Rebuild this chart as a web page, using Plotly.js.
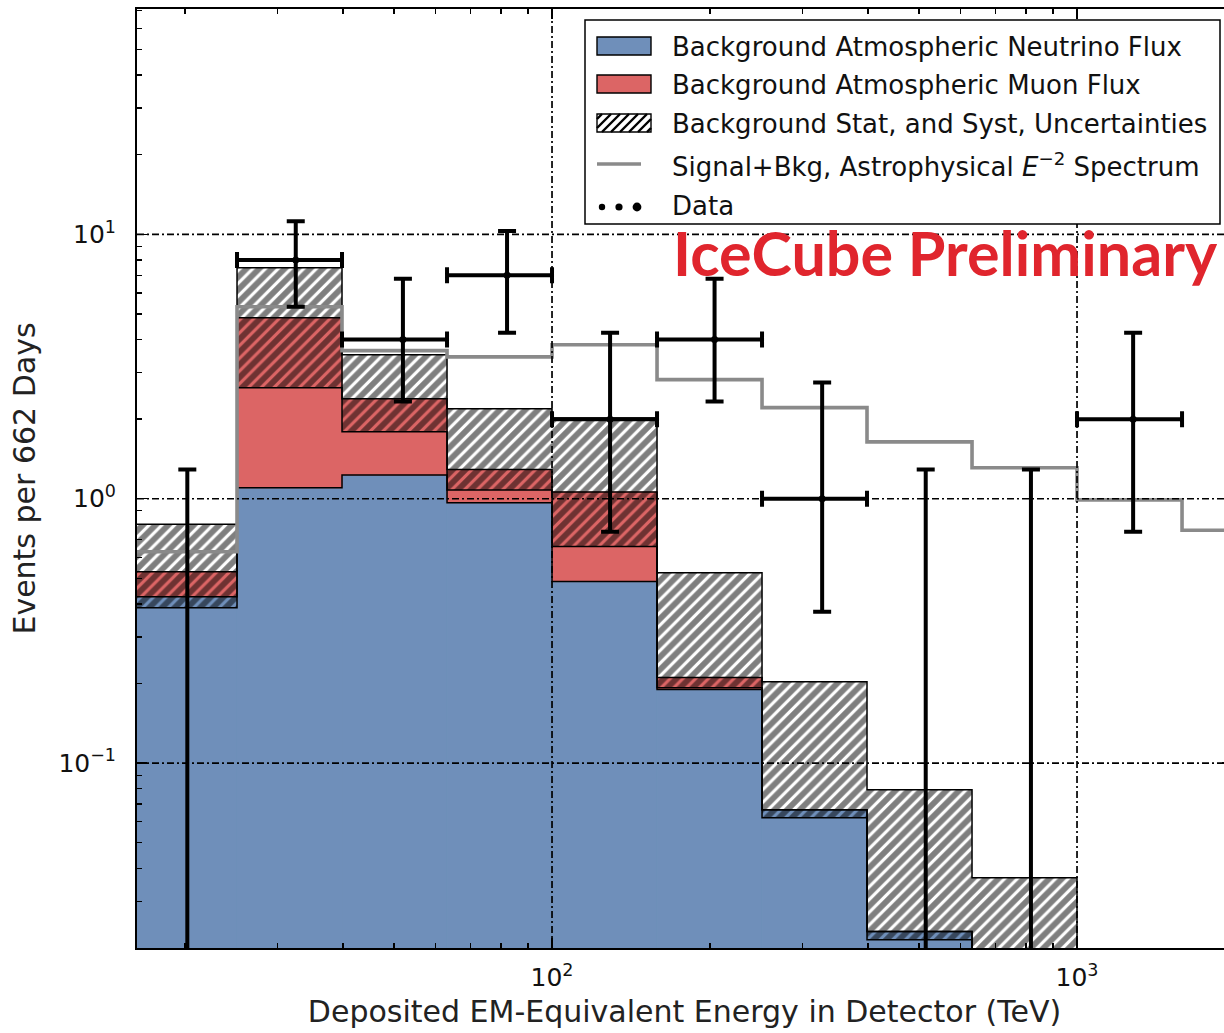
<!DOCTYPE html>
<html><head><meta charset="utf-8">
<script src="https://cdn.plot.ly/plotly-3.0.1.min.js"></script>
<style>html,body{margin:0;padding:0;overflow:hidden;background:#fff}#chart{width:1236px;height:1033px}</style>
</head><body><div id="chart"></div>
<script>
// ---------------- data ----------------
const binEdges        = [15.85, 25.12, 39.81, 63.10, 100, 158.5, 251.2, 398.1, 631.0, 1000, 1585, 2512];
const neutrinoFlux    = [0.426, 1.10, 1.23, 0.966, 0.486, 0.190, 0.0667, 0.0231, 0.012, 0.006, 0.003];
const muonFlux        = [0.104, 3.73, 1.16, 0.324, 0.574, 0.021, 0.0, 0.0, 0.0, 0.0, 0.0];
const uncertaintyLow  = [0.387, 2.63, 1.79, 1.08, 0.659, 0.193, 0.0622, 0.0215, 0.008, 0.004, 0.002];
const uncertaintyHigh = [0.80, 7.47, 3.50, 2.19, 2.02, 0.525, 0.203, 0.0794, 0.0369, 0.015, 0.008];
const signalPlusBkg   = [0.63, 5.32, 3.63, 3.44, 3.82, 2.82, 2.21, 1.64, 1.31, 0.99, 0.76];
const dataEnergy      = [20.2, 32.5, 52.0, 82.1, 129, 204, 327, 515, 817, 1279];
const dataCounts      = [0, 8, 4, 7, 2, 4, 1, 0, 0, 2];
const dataErrUp       = [1.29, 3.2, 2.79, 3.3, 2.24, 2.79, 1.75, 1.29, 1.29, 2.24];
const dataErrDown     = [0, 2.68, 1.67, 2.76, 1.25, 1.67, 0.626, 0, 0, 1.25];

const xTickVals = [100, 1000];
const xTickText = ['10<sup>2</sup>', '10<sup>3</sup>'];
const yTickVals = [0.1, 1, 10];
const yTickText = ['10<sup>\u22121</sup>', '10<sup>0</sup>', '10<sup>1</sup>'];

const legendLabels = [
  'Background Atmospheric Neutrino Flux',
  'Background Atmospheric Muon Flux',
  'Background Stat, and Syst, Uncertainties',
  'Signal+Bkg, Astrophysical <i>E</i><sup>\u22122</sup> Spectrum',
  'Data'
];
const watermark = 'IceCube Preliminary';

// ---------------- styles ----------------
const BLUE = '#6f8fba', RED = '#dc6565', GREY = '#8a8a8a';
const FONT = 'DejaVu Sans, Bitstream Vera Sans, sans-serif';

const W = 1236, H = 1033, ML = 137, MR = 4, MT = 9, MB = 85;
const PW = W - ML - MR, PH = H - MT - MB;
const px = x => (x - ML) / PW;
const py = y => (H - MB - y) / PH;

// bins
const nb = binEdges.length - 1;
const mid = [], wid = [];
for (let i = 0; i < nb; i++) { mid.push((binEdges[i] + binEdges[i + 1]) / 2); wid.push(binEdges[i + 1] - binEdges[i]); }
const muIdx = muonFlux.map((v, i) => v > 0 ? i : -1).filter(i => i >= 0);
const totalFlux = neutrinoFlux.map((v, i) => v + muonFlux[i]);

const traces = [];
traces.push({type: 'bar', x: mid, width: wid, y: neutrinoFlux,
  marker: {color: BLUE, line: {color: BLUE, width: 0.8}}, hoverinfo: 'skip', showlegend: false});
traces.push({type: 'bar', x: muIdx.map(i => mid[i]), width: muIdx.map(i => wid[i]),
  base: muIdx.map(i => neutrinoFlux[i]), y: muIdx.map(i => muonFlux[i]),
  marker: {color: RED, line: {color: RED, width: 0.8}}, hoverinfo: 'skip', showlegend: false});
traces.push({type: 'bar', x: mid, width: wid, base: uncertaintyLow,
  y: uncertaintyHigh.map((v, i) => v - uncertaintyLow[i]),
  marker: {color: 'rgba(0,0,0,0)', line: {width: 0},
    pattern: {shape: '/', fgcolor: 'black', bgcolor: 'rgba(0,0,0,0)', size: 9, solidity: 0.65, fillmode: 'overlay'}},
  hoverinfo: 'skip', showlegend: false});

// step outlines (envelopes) of the filled histograms
function stepXY(vals) {
  const x = [], y = [];
  for (let i = 0; i < nb; i++) { x.push(binEdges[i]); y.push(vals[i]); }
  x.push(binEdges[nb]); y.push(vals[nb - 1]);
  return {x, y};
}
[neutrinoFlux, totalFlux, uncertaintyLow, uncertaintyHigh].forEach(vals => {
  const s = stepXY(vals);
  traces.push({type: 'scatter', mode: 'lines', x: s.x, y: s.y, line: {color: 'black', width: 1.5, shape: 'hv'},
    hoverinfo: 'skip', showlegend: false});
});

// signal + background step line
const sig = stepXY(signalPlusBkg);
traces.push({type: 'scatter', mode: 'lines', x: sig.x, y: sig.y, line: {color: GREY, width: 3.6, shape: 'hv'},
  hoverinfo: 'skip', showlegend: false});

// data with counts
const nz = dataCounts.map((v, i) => v > 0 ? i : -1).filter(i => i >= 0);
const binOf = e => { for (let i = 0; i < nb; i++) if (e >= binEdges[i] && e < binEdges[i + 1]) return i; return nb - 1; };
traces.push({type: 'scatter', mode: 'markers',
  x: nz.map(i => dataEnergy[i]), y: nz.map(i => dataCounts[i]),
  marker: {color: 'black', size: 7},
  error_x: {type: 'data', symmetric: false,
    array: nz.map(i => binEdges[binOf(dataEnergy[i]) + 1] - dataEnergy[i]),
    arrayminus: nz.map(i => dataEnergy[i] - binEdges[binOf(dataEnergy[i])]),
    color: 'black', thickness: 4, width: 8},
  error_y: {type: 'data', symmetric: false,
    array: nz.map(i => dataErrUp[i]), arrayminus: nz.map(i => dataErrDown[i]),
    color: 'black', thickness: 4, width: 9},
  hoverinfo: 'skip', showlegend: false});
// zero-count bins: upper limit bar from the limit down below the axis
const zc = dataCounts.map((v, i) => v === 0 ? i : -1).filter(i => i >= 0);
traces.push({type: 'scatter', mode: 'markers',
  x: zc.map(i => dataEnergy[i]), y: zc.map(i => dataCounts[i] + dataErrUp[i]),
  marker: {color: 'black', size: 0.1, opacity: 0},
  error_y: {type: 'data', symmetric: false, array: zc.map(() => 0),
    arrayminus: zc.map(i => dataCounts[i] + dataErrUp[i] - 1e-5),
    color: 'black', thickness: 4, width: 9},
  hoverinfo: 'skip', showlegend: false});

// minor ticks 2..9 per decade
const minorTicks = (lo, hi) => { const a = []; for (let d = lo; d <= hi; d++) for (let m = 2; m <= 9; m++) a.push(m * Math.pow(10, d)); return a; };

const axisCommon = {
  type: 'log', showgrid: false, zeroline: false, showline: true, linecolor: 'black', linewidth: 2,
  mirror: 'allticks', ticks: 'inside', ticklen: 10, tickwidth: 1.5, tickcolor: 'black',
  tickmode: 'array', tickfont: {family: FONT, size: 25, color: '#111'}
};

// grid (drawn above the filled bars, as in the reference)
const shapes = [];
const gridDash = '7px,3px,2px,3px';
xTickVals.forEach(v => shapes.push({type: 'line', xref: 'x', yref: 'paper', x0: v, x1: v, y0: 0, y1: 1,
  line: {color: 'black', width: 1.7, dash: gridDash}, layer: 'above'}));
yTickVals.forEach(v => shapes.push({type: 'line', xref: 'paper', yref: 'y', x0: 0, x1: 1, y0: v, y1: v,
  line: {color: 'black', width: 1.7, dash: gridDash}, layer: 'above'}));

// legend (manual, matplotlib-like)
shapes.push({type: 'rect', xref: 'paper', yref: 'paper', x0: px(585), x1: px(1220), y0: py(20), y1: py(224),
  line: {color: 'black', width: 1.5}, fillcolor: 'white', layer: 'above'});
const rowY = [46, 84, 123, 164, 205];
const pX0 = 597, pX1 = 651, pH = 18;
[BLUE, RED].forEach((c, k) => shapes.push({type: 'rect', xref: 'paper', yref: 'paper',
  x0: px(pX0), x1: px(pX1), y0: py(rowY[k] - pH / 2), y1: py(rowY[k] + pH / 2),
  line: {color: 'black', width: 1.4}, fillcolor: c, layer: 'above'}));
{
  const y0 = rowY[2] - pH / 2, y1 = rowY[2] + pH / 2;
  shapes.push({type: 'rect', xref: 'paper', yref: 'paper', x0: px(pX0), x1: px(pX1), y0: py(y0), y1: py(y1),
    line: {color: 'black', width: 1.4}, fillcolor: 'white', layer: 'above'});
  for (let c = pX0 + y0 + 5; c < pX1 + y1; c += 9) {
    const xa = Math.max(pX0, c - y1), xb = Math.min(pX1, c - y0);
    if (xb <= xa) continue;
    shapes.push({type: 'line', xref: 'paper', yref: 'paper', x0: px(xa), y0: py(c - xa), x1: px(xb), y1: py(c - xb),
      line: {color: 'black', width: 2.4}, layer: 'above'});
  }
}
shapes.push({type: 'line', xref: 'paper', yref: 'paper', x0: px(597), x1: px(641), y0: py(rowY[3]), y1: py(rowY[3]),
  line: {color: GREY, width: 3.6}, layer: 'above'});
[[602, 3.2], [619, 3.6], [637, 4.4]].forEach(([cx, r]) => shapes.push({type: 'circle', xref: 'paper', yref: 'paper',
  xsizemode: 'pixel', ysizemode: 'pixel', xanchor: px(cx), yanchor: py(rowY[4] + 2), x0: -r, x1: r, y0: -r, y1: r,
  fillcolor: 'black', line: {width: 0}, layer: 'above'}));

const annotations = legendLabels.map((t, k) => ({xref: 'paper', yref: 'paper', x: px(670), y: py(rowY[k] + 1),
  xanchor: 'left', yanchor: 'middle', showarrow: false, text: t, font: {family: FONT, size: 26, color: '#111'}}));
annotations.push({xref: 'paper', yref: 'paper', x: px(671), y: py(253), xanchor: 'left', yanchor: 'middle',
  showarrow: false, text: '<b>' + watermark + '</b>', font: {family: 'Lato, sans-serif', size: 61, color: '#e0252d'}});

const layout = {
  width: W, height: H, margin: {l: ML, r: MR, t: MT, b: MB},
  paper_bgcolor: 'white', plot_bgcolor: 'white', barmode: 'overlay', bargap: 0, showlegend: false,
  xaxis: Object.assign({}, axisCommon, {
    range: [1.2095, 3.2952], tickvals: xTickVals, ticktext: xTickText, ticklabelstandoff: 6,
    minor: {tickmode: 'array', tickvals: minorTicks(1, 3), ticks: 'inside', ticklen: 5, tickwidth: 1.3, tickcolor: 'black', showgrid: false},
    title: {text: 'Deposited EM-Equivalent Energy in Detector (TeV)', font: {family: FONT, size: 30, color: '#222'}, standoff: 10}
  }),
  yaxis: Object.assign({}, axisCommon, {
    range: [-1.699, 1.852], tickvals: yTickVals, ticktext: yTickText, ticklabelstandoff: 14,
    minor: {tickmode: 'array', tickvals: minorTicks(-2, 1), ticks: 'inside', ticklen: 5, tickwidth: 1.3, tickcolor: 'black', showgrid: false},
    title: {text: 'Events per 662 Days', font: {family: FONT, size: 30, color: '#222'}, standoff: 14}
  }),
  shapes: shapes, annotations: annotations
};

Plotly.newPlot('chart', traces, layout, {displayModeBar: false, staticPlot: true});
</script>
</body></html>
